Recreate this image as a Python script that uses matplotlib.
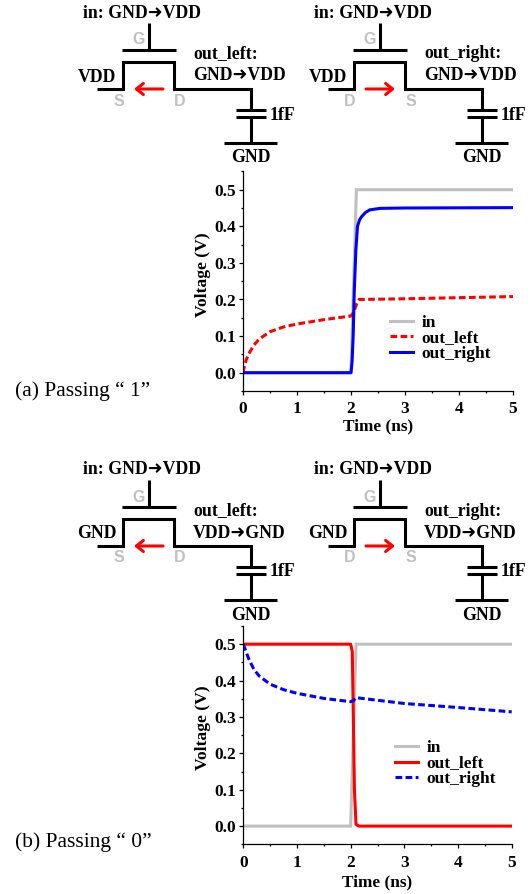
import matplotlib
matplotlib.use('Agg')
import matplotlib.pyplot as plt
from matplotlib.ticker import MultipleLocator, FormatStrFormatter

W, H = 531, 894
SERIF = ['Liberation Serif', 'DejaVu Sans']
SANS = ['Liberation Sans', 'DejaVu Sans']

GRAY = '#c0c0c0'
RED = '#ff0000'
BLUE = '#0000ff'

# (a) passing 1
t_in = [0, 2.0, 2.1, 5]
a_in = [0, 0, 0.5, 0.5]
a_left_t = [0, 0.03, 0.06, 0.1, 0.2, 0.3, 0.5, 0.75, 1, 1.5, 2, 2.05, 2.1, 2.15, 3, 4, 5]
a_left_v = [0, 0.02, 0.035, 0.05, 0.075, 0.092, 0.112, 0.125, 0.133, 0.145, 0.155, 0.165, 0.187, 0.2, 0.202, 0.205, 0.208]
a_right_t = [0, 2.0, 2.02, 2.04, 2.06, 2.09, 2.12, 2.16, 2.2, 2.27, 2.35, 2.54, 3, 5]
a_right_v = [0, 0, 0.03, 0.1, 0.22, 0.335, 0.4, 0.418, 0.427, 0.438, 0.445, 0.449, 0.45, 0.451]

# (b) passing 0
b_in = [0, 0, 0.5, 0.5]
b_left_t = [0, 2.0, 2.03, 2.05, 2.07, 2.1, 2.15, 5]
b_left_v = [0.5, 0.5, 0.48, 0.3, 0.1, 0.005, 0, 0]
b_right_t = [0, 0.05, 0.1, 0.2, 0.3, 0.5, 0.75, 1, 1.5, 2, 2.05, 2.1, 3, 4, 5]
b_right_v = [0.5, 0.48, 0.46, 0.43, 0.412, 0.39, 0.375, 0.365, 0.351, 0.342, 0.345, 0.353, 0.337, 0.326, 0.314]

x_ticks = [0, 1, 2, 3, 4, 5]
y_ticks = [0.0, 0.1, 0.2, 0.3, 0.4, 0.5]

fig = plt.figure(figsize=(W / 100, H / 100), dpi=100)

# overlay in pixel coordinates for the circuit sketches
bg = fig.add_axes([0, 0, 1, 1])
bg.set_xlim(0, W)
bg.set_ylim(H, 0)
bg.axis('off')


def wire(xs, ys, lw=2.2):
    bg.plot(xs, ys, color='black', lw=lw, solid_capstyle='butt', solid_joinstyle='miter')


def label(x, y, s, ha='center', size=12.8, color='black', family=SERIF):
    bg.text(x, y, s, ha=ha, va='center', fontsize=size, color=color,
            family=family, fontweight='bold')


def circuit(dx, dy, src, out_name, trans, direction):
    # gate, channel, leads, capacitor, ground
    wire([149 + dx, 149 + dx], [23 + dy, 50 + dy])
    wire([122 + dx, 176 + dx], [50 + dy, 50 + dy])
    wire([97 + dx, 123 + dx, 123 + dx, 174 + dx, 174 + dx, 251 + dx, 251 + dx],
         [89 + dy, 89 + dy, 62 + dy, 62 + dy, 89 + dy, 89 + dy, 110 + dy])
    wire([236 + dx, 266 + dx], [110 + dy, 110 + dy])
    wire([236 + dx, 266 + dx], [117 + dy, 117 + dy])
    wire([251 + dx, 251 + dx], [117 + dy, 143 + dy])
    wire([224 + dx, 277 + dx], [143 + dy, 143 + dy])

    label(142 + dx, 13 + dy, 'in: GND\u279cVDD')
    label(97 + dx, 77 + dy, src)
    label(193 + dx, 54 + dy, out_name, ha='left')
    label(193 + dx, 76 + dy, trans, ha='left')
    label(270 + dx, 115 + dy, '1fF', ha='left')
    label(251 + dx, 158 + dy, 'GND')

    label(139 + dx, 40 + dy, 'G', size=11.5, color=GRAY, family=SANS)
    if direction == 'left':
        left, right = 'S', 'D'
        start, end = 163, 134
    else:
        left, right = 'D', 'S'
        start, end = 135, 164
    label(119 + dx, 101 + dy, left, size=11.5, color=GRAY, family=SANS)
    label(180 + dx, 101 + dy, right, size=11.5, color=GRAY, family=SANS)
    bg.annotate('', xy=(end + dx, 89 + dy), xytext=(start + dx, 89 + dy),
                arrowprops=dict(arrowstyle='->,head_length=0.5,head_width=0.4',
                                color=RED, lw=2.2, shrinkA=0, shrinkB=0))


circuit(0, 0, 'VDD', 'out_left:', 'GND\u279cVDD', 'left')
circuit(231, 0, 'VDD', 'out_right:', 'GND\u279cVDD', 'right')
circuit(0, 457, 'GND', 'out_left:', 'VDD\u279cGND', 'left')
circuit(231, 457, 'GND', 'out_right:', 'VDD\u279cGND', 'right')

bg.text(15, 391, '(a) Passing \u201c 1\u201d', ha='left', va='center', fontsize=15.5, family=SERIF)
bg.text(15, 842, '(b) Passing \u201c 0\u201d', ha='left', va='center', fontsize=15.5, family=SERIF)


def make_axes(left, right, top, bottom, xlabel_pad, ylabel_y):
    ax = fig.add_axes([left / W, 1 - bottom / H, (right - left) / W, (bottom - top) / H])
    ax.patch.set_alpha(0)
    ax.set_xlim(0, 5)
    ax.set_ylim(-0.05, 0.55)
    ax.spines['top'].set_visible(False)
    ax.spines['right'].set_visible(False)
    ax.spines['left'].set_linewidth(0.9)
    ax.spines['bottom'].set_linewidth(0.9)
    ax.set_xticks(x_ticks)
    ax.set_yticks(y_ticks)
    ax.yaxis.set_major_formatter(FormatStrFormatter('%.1f'))
    ax.xaxis.set_minor_locator(MultipleLocator(0.5))
    ax.yaxis.set_minor_locator(MultipleLocator(0.05))
    ax.tick_params(axis='both', which='major', length=3, width=0.9, labelsize=12.5)
    ax.tick_params(axis='x', which='major', pad=4.5)
    ax.tick_params(axis='y', which='major', pad=2)
    ax.tick_params(axis='both', which='minor', length=1.6, width=0.9)
    for tl in ax.get_xticklabels() + ax.get_yticklabels():
        tl.set_family(SERIF)
        tl.set_fontweight('bold')
    ax.set_xlabel('Time (ns)', family=SERIF, fontweight='bold', fontsize=12.4, labelpad=xlabel_pad)
    ax.set_ylabel('Voltage (V)', family=SERIF, fontweight='bold', fontsize=12.6, labelpad=2.5, y=ylabel_y)
    return ax


def add_legend(ax, x, y):
    ax.legend(loc='center left', bbox_to_anchor=(x, y), frameon=False, handlelength=1.35,
              handletextpad=0.45, labelspacing=-0.05, borderpad=0, borderaxespad=0,
              prop={'family': SERIF, 'weight': 'bold', 'size': 12.5})


ax1 = make_axes(243, 513, 171.4, 391, 0.5, 0.528)
ax1.plot(t_in, a_in, color=GRAY, lw=2.2, label='in', solid_joinstyle='miter')
ax1.plot(a_left_t, a_left_v, color=RED, lw=2.2, ls=(0, (2.2, 1.1)), label='out_left')
ax1.plot(a_right_t, a_right_v, color=BLUE, lw=2.2, label='out_right')
add_legend(ax1, (390 - 243) / 270, (391 - 338.5) / 219.6)

ax2 = make_axes(243.3, 511.7, 626, 844.3, 3.0, 0.533)
ax2.plot(t_in, b_in, color=GRAY, lw=2.2, label='in', solid_joinstyle='miter')
ax2.plot(b_left_t, b_left_v, color=RED, lw=2.2, label='out_left')
ax2.plot(b_right_t, b_right_v, color=BLUE, lw=2.2, ls=(0, (2.2, 1.1)), label='out_right')
add_legend(ax2, (395 - 243.3) / 268.4, (844.3 - 763.5) / 218.3)

fig.savefig('out.png', dpi=100)
